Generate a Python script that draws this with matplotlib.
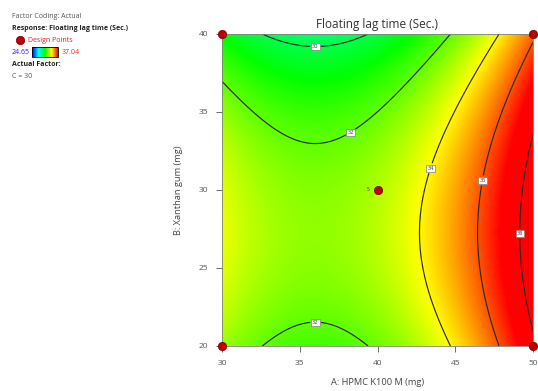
import numpy as np
import matplotlib
matplotlib.use("Agg")
import matplotlib.pyplot as plt
from matplotlib.colors import ListedColormap, Normalize, hsv_to_rgb
from matplotlib.cm import ScalarMappable

plt.rcParams['font.family'] = ['Open Sans', 'DejaVu Sans']

# response range over all runs
resp_min = 24.65
resp_max = 37.04

# quadratic model in coded factors (A, B), C held at its centre (30)
model_terms = ['Intercept', 'A', 'B', 'AB', 'A^2', 'B^2']
model_coefs = [32.96, 2.50, -1.00, 0.0, 3.12, -1.82]

A_low, A_high = 30, 50
B_low, B_high = 20, 40

# design points on this slice
design_A = [30, 50, 30, 50, 40]
design_B = [20, 20, 40, 40, 30]
design_reps = [1, 1, 1, 1, 5]

contour_levels = [30, 32, 34, 36, 38]
# where the contour labels sit
label_pos = [(36, 39.2), (38.2, 33.8), (36, 21.5), (43.1, 31.5), (46.8, 30.6), (49.2, 27.2)]

x_ticks = [30, 35, 40, 45, 50]
y_ticks = [20, 25, 30, 35, 40]


def predict(A, B):
    a = (A - 40) / 10.0
    b = (B - 30) / 10.0
    c0, cA, cB, cAB, cAA, cBB = model_coefs
    return c0 + cA * a + cB * b + cAB * a * b + cAA * a ** 2 + cBB * b ** 2


# blue -> green -> yellow -> red (hue sweep)
hues = np.linspace(2 / 3, 0, 256)
cmap = ListedColormap(hsv_to_rgb(np.column_stack([hues, np.ones(256), np.ones(256)])))
norm = Normalize(resp_min, resp_max)

fig = plt.figure(figsize=(5.38, 3.91), dpi=100)
ax = fig.add_axes([222 / 538, 1 - 346 / 391, (533 - 222) / 538, (346 - 34) / 391])

gA = np.linspace(A_low, A_high, 301)
gB = np.linspace(B_low, B_high, 301)
AA, BB = np.meshgrid(gA, gB)
Z = predict(AA, BB)

ax.imshow(Z, extent=[A_low, A_high, B_low, B_high], origin='lower', cmap=cmap,
          norm=norm, aspect='auto', interpolation='bilinear')
cs = ax.contour(AA, BB, Z, levels=contour_levels, colors='#2a2a2a', linewidths=0.85)
labels = ax.clabel(cs, manual=label_pos, fmt='%d', fontsize=4, inline=True, inline_spacing=2)
for t in labels:
    t.set_rotation(0)
    t.set_color('#333333')
    t.set_bbox(dict(boxstyle='square,pad=0.2', fc='white', ec='#808080', lw=0.5))

ax.plot(design_A, design_B, 'o', ms=6, color='#c00000', mec='#700000', mew=0.5,
        clip_on=False, zorder=10)
for a, b, n in zip(design_A, design_B, design_reps):
    if n > 1:
        ax.text(a - 0.5, b, str(n), fontsize=3.5, ha='right', va='center', color='#333333')

ax.set_xlim(A_low, A_high)
ax.set_ylim(B_low, B_high)
ax.set_xticks(x_ticks)
ax.set_yticks(y_ticks)
ax.tick_params(labelsize=6, colors='#555555', length=4, width=0.6, direction='out', pad=6)
for s in ax.spines.values():
    s.set_color('#808080')
    s.set_linewidth(0.6)

ax.set_title('Floating lag time (Sec.)', fontsize=8.5, color='#333333', pad=4)
ax.set_xlabel('A: HPMC K100 M (mg)', fontsize=6.7, color='#444444', labelpad=8)
ax.set_ylabel('B: Xanthan gum (mg)', fontsize=6.7, color='#444444', labelpad=11)

# legend block at top-left
x0 = 12 / 538
fig.text(x0, 1 - 17 / 391, 'Factor Coding: Actual', fontsize=5, color='#555555', va='center')
fig.text(x0, 1 - 28 / 391, 'Response: Floating lag time (Sec.)', fontsize=5,
         fontweight='bold', color='#222222', va='center')
fig.lines.append(plt.Line2D([20 / 538], [1 - 40 / 391], marker='o', ms=6, color='#c00000',
                            mec='#700000', mew=0.5, transform=fig.transFigure))
fig.text(28 / 538, 1 - 40 / 391, 'Design Points', fontsize=5, color='#e02020', va='center')
fig.text(x0, 1 - 52 / 391, f'{resp_min:.2f}', fontsize=5, color='#2020ff', va='center')
fig.text(62 / 538, 1 - 52 / 391, f'{resp_max:.2f}', fontsize=5, color='#ff2020', va='center')
cax = fig.add_axes([32 / 538, 1 - 57 / 391, 26 / 538, 10 / 391])
cb = fig.colorbar(ScalarMappable(norm=norm, cmap=cmap), cax=cax, orientation='horizontal')
cb.set_ticks([])
cb.outline.set_linewidth(0.6)
fig.text(x0, 1 - 65 / 391, 'Actual Factor:', fontsize=5, fontweight='bold',
         color='#222222', va='center')
fig.text(x0, 1 - 76 / 391, 'C = 30', fontsize=5, color='#555555', va='center')

fig.savefig('out.png', dpi=100)
